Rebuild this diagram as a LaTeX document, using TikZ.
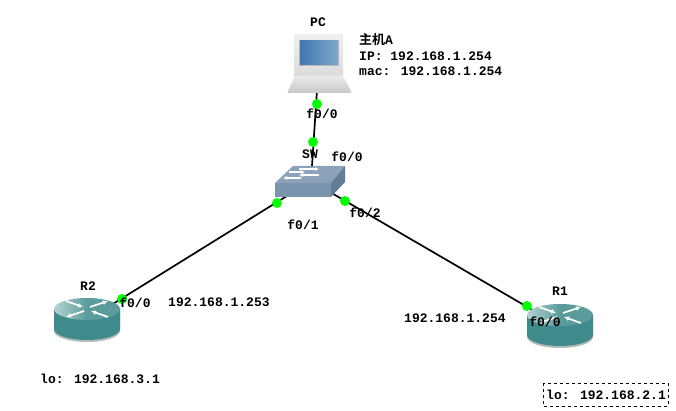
\documentclass[tikz,border=0pt]{standalone}
\usepackage{fontspec}
\setmainfont{Liberation Mono}
\newfontfamily\cjkfont{Noto Sans CJK SC}[BoldFont={Noto Sans CJK SC Bold}]
\usetikzlibrary{arrows.meta}
\definecolor{routerbody}{HTML}{3F8A8A}
\definecolor{routertop}{HTML}{5A9C9C}
\definecolor{routerglow}{HTML}{B5D3D3}
\definecolor{routershade}{HTML}{B4BCBC}
\definecolor{switchtop}{HTML}{8CA2BA}
\definecolor{switchfront}{HTML}{7B94AE}
\definecolor{switchside}{HTML}{647C96}
\definecolor{screendark}{HTML}{3F78AE}
\definecolor{screenlight}{HTML}{7FA8CC}
\tikzset{
lbl/.style={font=\bfseries\fontsize{13}{13}\selectfont,inner sep=0pt,text=black},
lblleft/.style={lbl,anchor=west},
link/.style={line width=1.7pt,black},
port/.style={circle,fill=green,inner sep=0pt,minimum size=10pt},
whitearrow/.style={white,line width=1.7pt,-{Latex[length=5pt,width=5pt]}},
smallarrow/.style={whitearrow,line width=1.2pt,-{Latex[length=4pt,width=4pt]}},
routericon/.pic={
  \path[fill=routershade] (-33,-11) -- (-33,11) arc[start angle=180,end angle=0,x radius=33,y radius=11] -- (33,-11) -- cycle;
  \path[fill=routerbody] (-33,-11) -- (-33,9) arc[start angle=180,end angle=0,x radius=33,y radius=11] -- (33,-11) -- cycle;
  \path[left color=routerglow,right color=routertop,middle color=routertop] (0,-11) ellipse[x radius=33,y radius=11];
  \draw[whitearrow] (3,-13) -- (21,-19);
  \draw[whitearrow] (-21,-19) -- (-4,-13);
  \draw[whitearrow] (-3,-9) -- (-21,-3);
  \draw[whitearrow] (21,-3) -- (4,-9);
},
switchicon/.pic={
  \path[fill=switchtop] (-36,-14) -- (-18,-31) -- (34,-31) -- (20,-14) -- cycle;
  \path[fill=switchfront] (-36,-14) -- (20,-14) -- (20,0) -- (-36,0) -- cycle;
  \path[fill=switchside] (20,-14) -- (34,-31) -- (34,-15) -- (20,0) -- cycle;
  \draw[smallarrow] (-22,-25) -- (-6,-25);
  \draw[smallarrow] (-12,-28) -- (8,-28);
  \draw[smallarrow] (8,-22) -- (-12,-22);
  \draw[smallarrow] (-10,-19) -- (-28,-19);
},
}
\begin{document}
\begin{tikzpicture}[x=1pt,y=-1pt]
\useasboundingbox (0,0) rectangle (676,411);
\fill[white] (0,0) rectangle (676,411);
\coordinate (pc) at (319,60);
\coordinate (sw) at (311,181);
\coordinate (rtwo) at (87,320);
\coordinate (rone) at (560,326);
% links
\draw[link] (pc) -- (sw);
\draw[link] (sw) -- (rtwo);
\draw[link] (sw) -- (rone);
% pc
\path[rounded corners=1.5pt,top color=black!6,bottom color=black!14] (294,34) rectangle (343,77);
\path[fill=black!28] (299,40) rectangle (339,66);
\path[left color=screendark,right color=screenlight] (300,41) rectangle (338,65);
\path[rounded corners=1.5pt,top color=black!8,bottom color=black!22] (295,76) -- (343,76) -- (352,93) -- (287,93) -- cycle;
% icons
\pic at (311,197) {switchicon};
\pic at (87,320) {routericon};
\pic at (560,326) {routericon};
\node[port] (pcport) at (317,104) {};
\node[port] (swtop) at (313,142) {};
\node[port] (swleft) at (277,203) {};
\node[port] (swright) at (345,201) {};
\node[port] (rtwoport) at (122,299) {};
\node[port] (roneport) at (527,306) {};
% labels
\node[lbl] (pclabel) at (318,22) {PC};
\node[lblleft] (hostname) at (359,40) {{\cjkfont 主机}A};
\node[lblleft] (hostip) at (359,56) {IP: 192.168.1.254};
\node[lblleft] (hostmac) at (359,71) {mac: 192.168.1.254};
\node[lbl] (pcif) at (322,114) {f0/0};
\node[lbl] (swlabel) at (310,154) {SW};
\node[lbl] (swtopif) at (347,157) {f0/0};
\node[lbl] (swleftif) at (303,225) {f0/1};
\node[lbl] (swrightif) at (365,213) {f0/2};
\node[lbl] (rtwolabel) at (88,286) {R2};
\node[lbl] (rtwoif) at (135,303) {f0/0};
\node[lblleft] (rtwoip) at (168,302) {192.168.1.253};
\node[lblleft] (rtwolo) at (40,379) {lo: 192.168.3.1};
\node[lbl] (ronelabel) at (560,291) {R1};
\node[lblleft] (roneip) at (404,318) {192.168.1.254};
\node[lbl] (roneif) at (545,322) {f0/0};
\draw[dashed,thick] (543,383) rectangle (668,406);
\node[lblleft] (ronelo) at (546,395) {lo: 192.168.2.1};
\end{tikzpicture}
\end{document}
